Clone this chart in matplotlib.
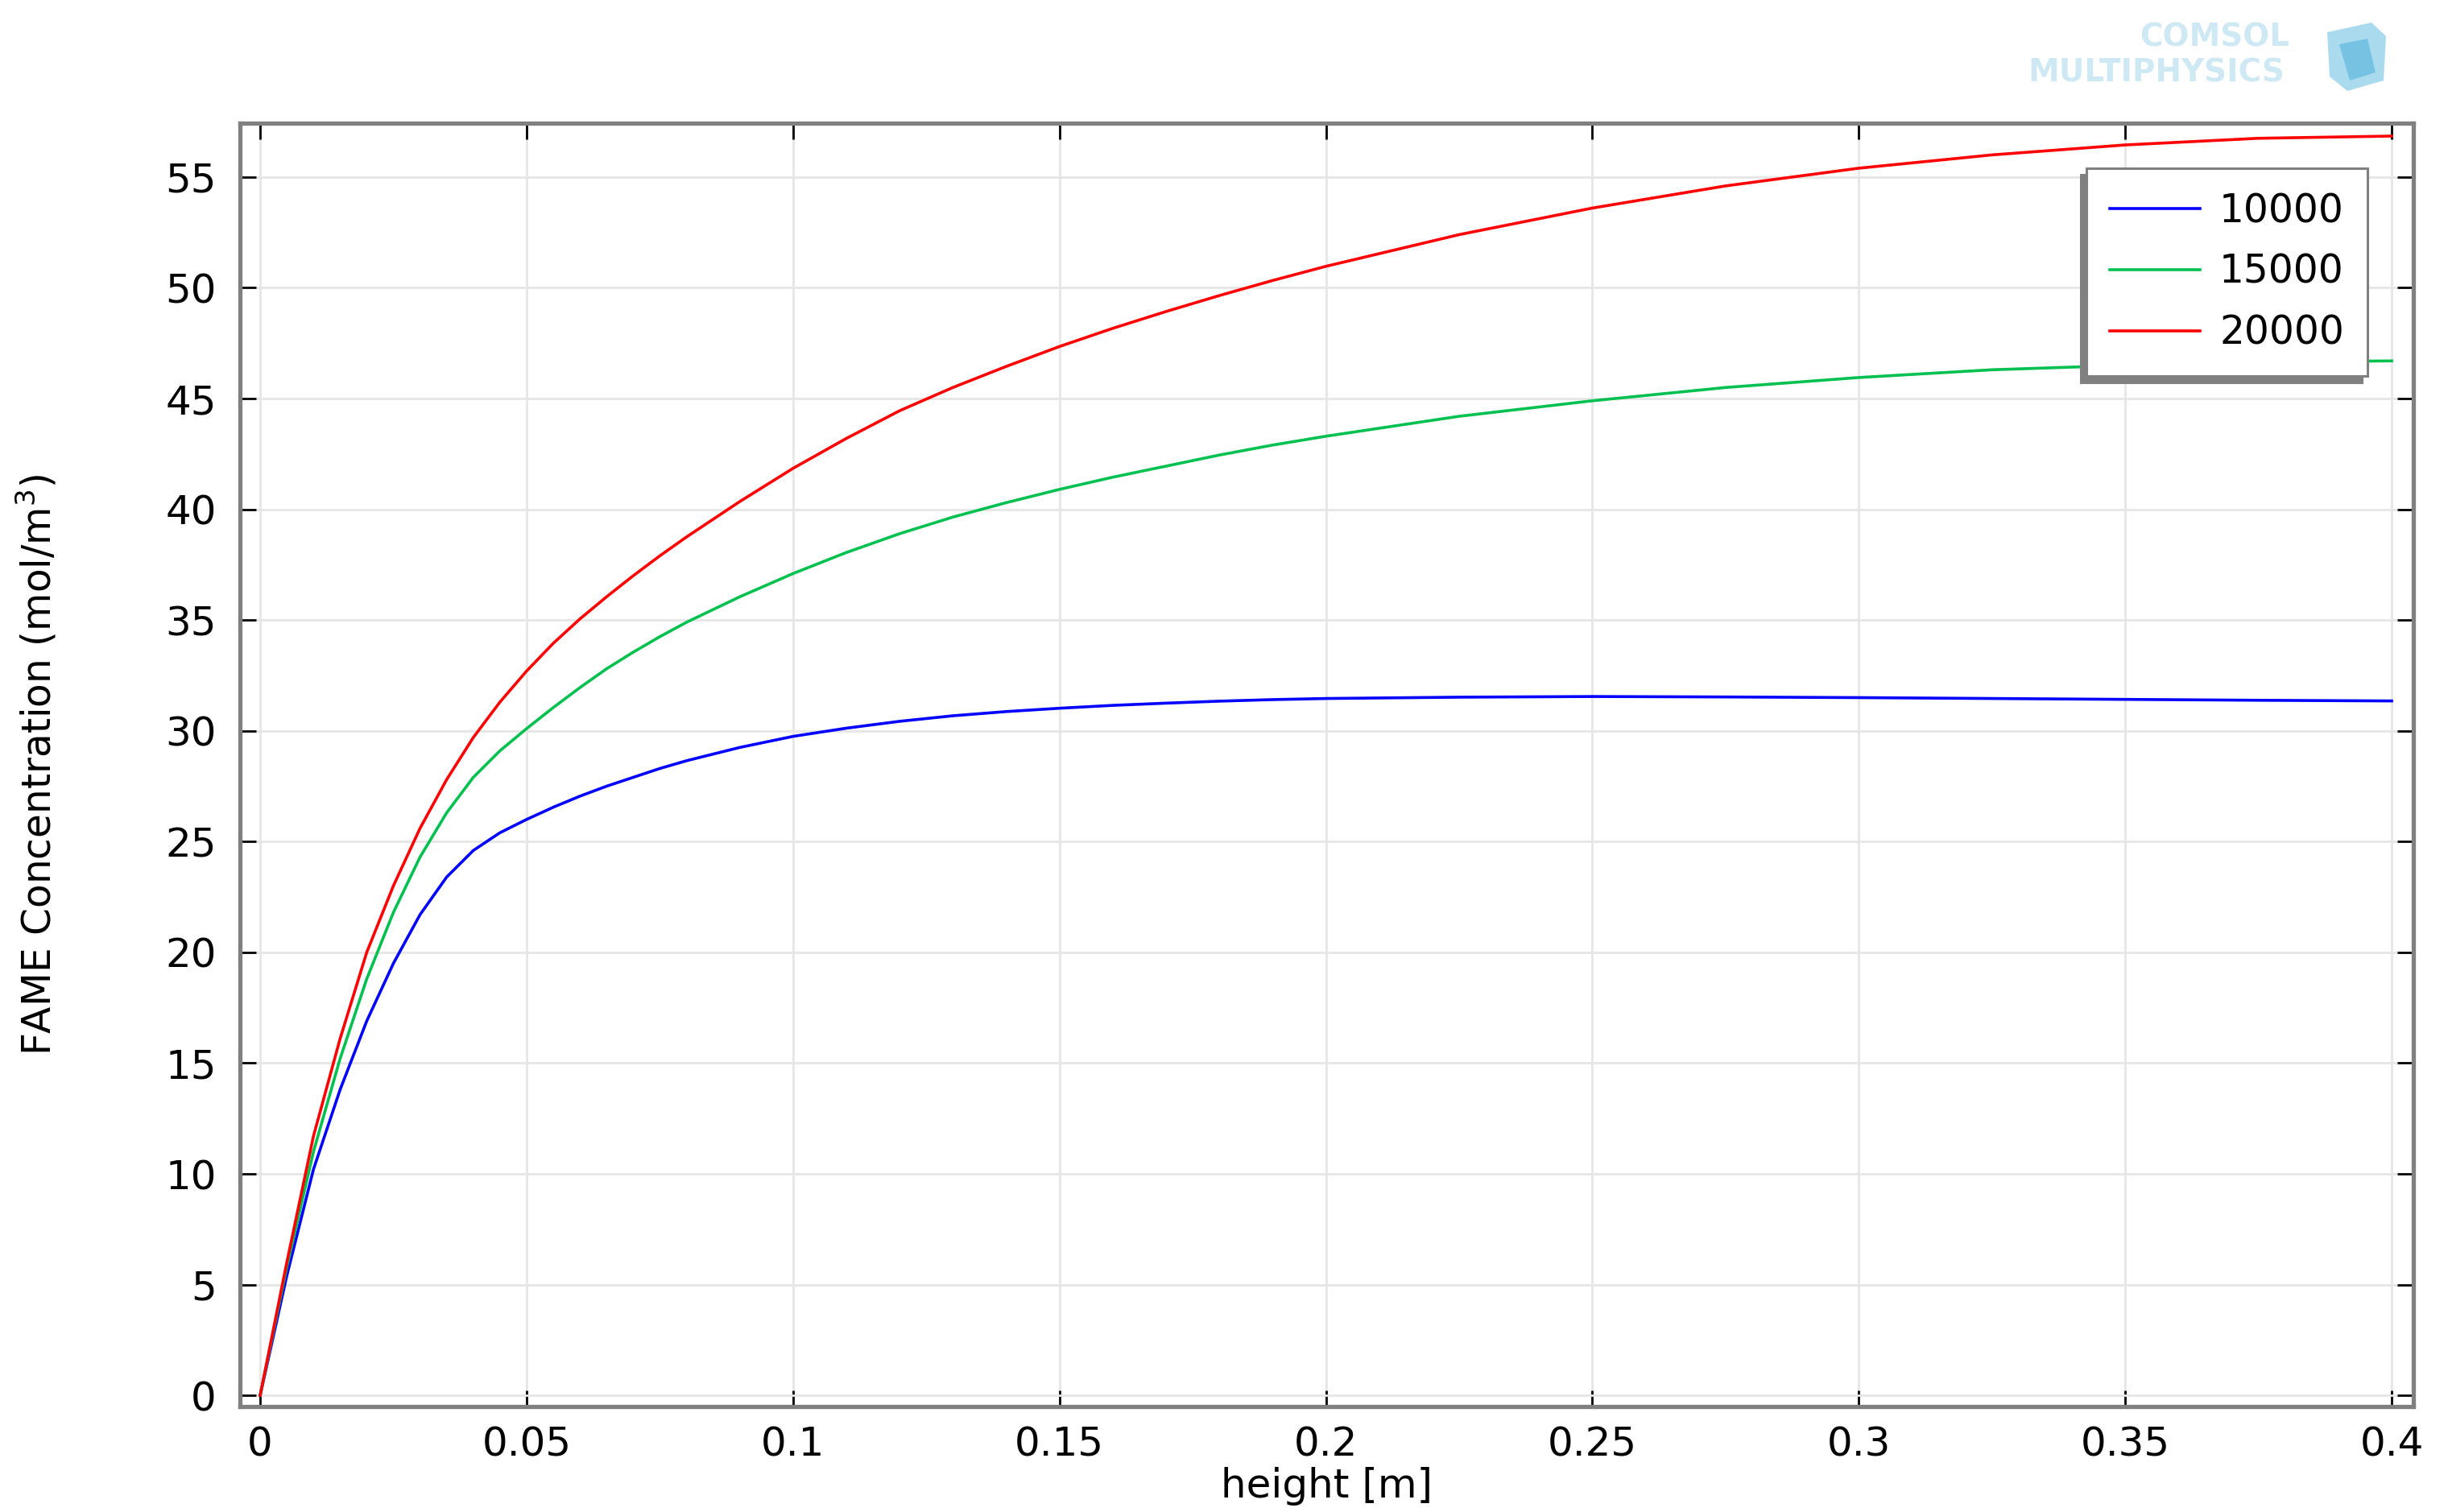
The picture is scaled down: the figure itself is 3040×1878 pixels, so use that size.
import matplotlib
matplotlib.use("Agg")
import matplotlib.pyplot as plt
from matplotlib.ticker import FuncFormatter, MultipleLocator
from matplotlib.patches import Polygon

# values
height = [0, 0.005, 0.01, 0.015, 0.02, 0.025, 0.03, 0.035, 0.04, 0.045, 0.05,
          0.055, 0.06, 0.065, 0.07, 0.075, 0.08, 0.09, 0.1, 0.11, 0.12, 0.13,
          0.14, 0.15, 0.16, 0.17, 0.18, 0.19, 0.2, 0.225, 0.25, 0.275, 0.3,
          0.325, 0.35, 0.375, 0.4]
fame_10000 = [0, 5.4, 10.2, 13.8, 16.9, 19.5, 21.7, 23.4, 24.6, 25.4, 26.0,
              26.55, 27.05, 27.5, 27.9, 28.3, 28.65, 29.25, 29.75, 30.12, 30.43, 30.68,
              30.87, 31.02, 31.15, 31.25, 31.34, 31.41, 31.46, 31.52, 31.55, 31.53, 31.5,
              31.46, 31.42, 31.38, 31.35]
fame_15000 = [0, 5.8, 11.0, 15.2, 18.8, 21.8, 24.3, 26.3, 27.9, 29.1, 30.1,
              31.05, 31.95, 32.8, 33.55, 34.25, 34.9, 36.05, 37.1, 38.05, 38.9, 39.65,
              40.3, 40.9, 41.45, 41.95, 42.45, 42.9, 43.3, 44.2, 44.9, 45.5, 45.95,
              46.3, 46.5, 46.65, 46.7]
fame_20000 = [0, 6.0, 11.7, 16.1, 20.0, 23.0, 25.6, 27.8, 29.7, 31.3, 32.7,
              33.95, 35.05, 36.05, 37.0, 37.9, 38.75, 40.35, 41.85, 43.2, 44.45, 45.5,
              46.45, 47.35, 48.17, 48.93, 49.65, 50.33, 50.97, 52.4, 53.6, 54.6, 55.4,
              56.0, 56.45, 56.75, 56.85]

labels = ["10000", "15000", "20000"]
colors = ["#0000ff", "#00c050", "#ff0000"]

plt.rcParams["font.family"] = ["DejaVu Sans"]

fig = plt.figure(figsize=(15.2, 9.39), dpi=200)
ax = fig.add_axes([0.098, 0.0698, 0.8879, 0.8487])

for y, lab, c in zip([fame_10000, fame_15000, fame_20000], labels, colors):
    ax.plot(height, y, color=c, lw=1.3, label=lab)

ax.set_xlim(-0.0038, 0.4041)
ax.set_ylim(-0.5, 57.43)
ax.xaxis.set_major_locator(MultipleLocator(0.05))
ax.yaxis.set_major_locator(MultipleLocator(5))
ax.xaxis.set_major_formatter(FuncFormatter(lambda v, p: f"{v:g}"))

ax.set_axisbelow(True)
ax.grid(True, color="#e6e6e6", lw=1.0)
for s in ax.spines.values():
    s.set_color("#808080")
    s.set_linewidth(1.9)

ax.tick_params(direction="in", top=True, right=True, length=7.2, width=1,
               color="k", labelsize=18)
ax.tick_params(axis="x", pad=8.5)
ax.tick_params(axis="y", pad=10.5)

ax.set_xlabel("height [m]", fontsize=18)
ax.xaxis.set_label_coords(0.5, -0.047)
ax.set_ylabel("FAME Concentration (mol/m$^{3}$)", fontsize=17.5)
ax.yaxis.set_label_coords(-0.083, 0.5)

leg = ax.legend(loc="upper right", bbox_to_anchor=(0.9789, 0.9649), borderaxespad=0,
                fontsize=17.5, handlelength=2.3, handletextpad=0.5, borderpad=0.6,
                labelspacing=0.57, fancybox=False, framealpha=1, edgecolor="#808080",
                shadow={"ox": -2.5, "oy": -3, "color": "#808080", "alpha": 1})
leg.get_frame().set_linewidth(1.1)

# faded COMSOL logo
W, H = 3040, 1878
fig.text(2750 / W, 1 - 47 / H, "COMSOL", ha="center", va="center",
         color="#cfe9f4", fontsize=14, fontweight="bold")
fig.text(2678 / W, 1 - 90 / H, "MULTIPHYSICS", ha="center", va="center",
         color="#cfe9f4", fontsize=14, fontweight="bold")
cube = [(2890, 40), (2945, 28), (2963, 45), (2960, 100), (2915, 113), (2893, 95)]
fig.patches.append(Polygon([(x / W, 1 - y / H) for x, y in cube], closed=True,
                           transform=fig.transFigure, fc="#a9daee", ec="none"))
inner = [(2905, 55), (2940, 48), (2950, 90), (2918, 100)]
fig.patches.append(Polygon([(x / W, 1 - y / H) for x, y in inner], closed=True,
                           transform=fig.transFigure, fc="#5fb8de", ec="none", alpha=0.7))

fig.savefig("out.png", dpi=200)
